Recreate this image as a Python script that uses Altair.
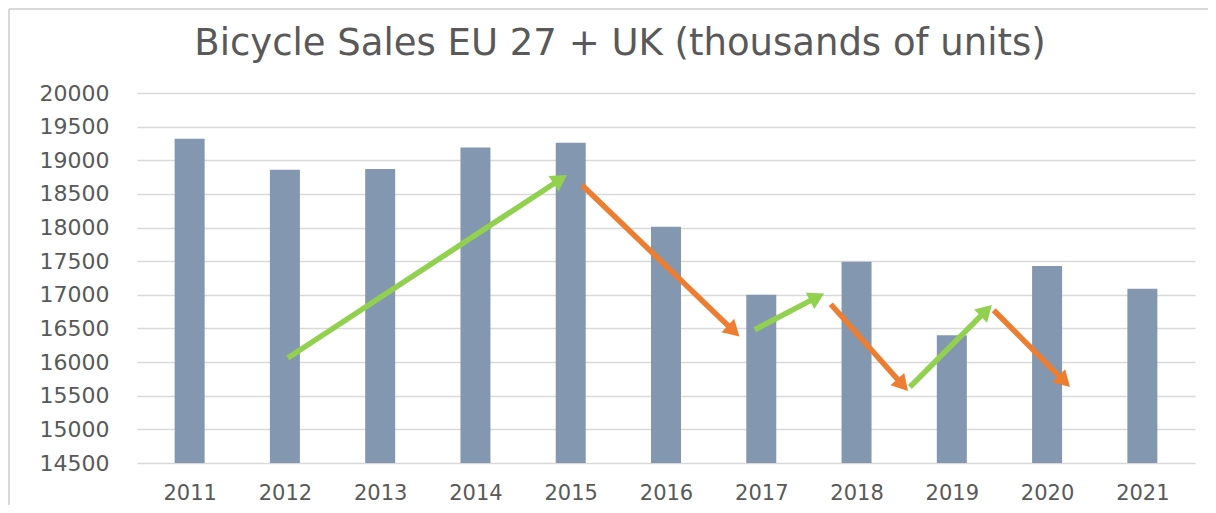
import math
import altair as alt
import pandas as pd

# ---- data ----
years = list(range(2011, 2022))
sales = [19320, 18860, 18870, 19190, 19260, 18010, 17000, 17490, 16400, 17430, 17090]

arrow_x0 = [2012.03, 2015.12, 2016.93, 2017.73, 2018.56, 2019.44]
arrow_y0 = [16060, 18630, 16480, 16860, 15630, 16770]
arrow_x1 = [2014.96, 2016.77, 2017.66, 2018.54, 2019.42, 2020.24]
arrow_y1 = [18780, 16380, 17020, 15570, 16850, 15630]
arrow_kind = ["up", "down", "up", "down", "up", "down"]

y_ticks = list(range(14500, 20001, 500))

# ---- layout ----
W, H = 1058, 370
XDOM = [2010.5, 2021.5]
YDOM = [14500, 20000]
px_x = W / (XDOM[1] - XDOM[0])
px_y = H / (YDOM[1] - YDOM[0])
FONT = "DejaVu Sans"
TXT = "#595959"

bars_df = pd.DataFrame({"year": years, "sales": sales})

rows = []
for x0, y0, x1, y1, k in zip(arrow_x0, arrow_y0, arrow_x1, arrow_y1, arrow_kind):
    dx = (x1 - x0) * px_x
    dy = -(y1 - y0) * px_y
    L = math.hypot(dx, dy)
    ux, uy = dx / L, dy / L
    back = 8.0
    hx = x1 - back * ux / px_x
    hy = y1 + back * uy / px_y
    ang = math.degrees(math.atan2(ux, -uy)) % 360
    rows.append(dict(x0=x0, y0=y0, xs=hx, ys=hy, hx=hx, hy=hy, ang=ang, kind=k))
arr_df = pd.DataFrame(rows)

color_scale = alt.Scale(domain=["up", "down"], range=["#92D050", "#ED7D31"])

x_enc = alt.X(
    "year:Q",
    scale=alt.Scale(domain=XDOM, nice=False, zero=False),
    axis=alt.Axis(values=years, format="d", title=None, grid=False, domain=False,
                  ticks=False, labelFontSize=21, labelFont=FONT, labelColor=TXT,
                  labelPadding=19, labelOverlap=False, tickCount=20),
)
y_enc = alt.Y(
    "sales:Q",
    scale=alt.Scale(domain=YDOM, nice=False, zero=False),
    axis=alt.Axis(values=y_ticks, format="d", title=None, domain=False, ticks=False,
                  gridColor="#d9d9d9", gridWidth=1.6, labelFontSize=22,
                  labelFont=FONT, labelColor=TXT, labelPadding=28,
                  labelOverlap=False, labelBaseline="middle", tickCount=20),
)

bars = alt.Chart(bars_df).mark_bar(size=30, color="#8497B0").encode(
    x=x_enc, y=y_enc, y2=alt.datum(14500)
)

shafts = alt.Chart(arr_df).mark_rule(strokeWidth=5.5, strokeCap="butt").encode(
    x=alt.X("x0:Q"), y=alt.Y("y0:Q"), x2="xs:Q", y2="ys:Q",
    color=alt.Color("kind:N", scale=color_scale, legend=None),
)

heads = alt.Chart(arr_df).mark_point(shape="triangle-up", filled=True, size=340, opacity=1).encode(
    x=alt.X("hx:Q"), y=alt.Y("hy:Q"),
    angle=alt.Angle("ang:Q", scale=None),
    color=alt.Color("kind:N", scale=color_scale, legend=None),
)

title = alt.Chart(pd.DataFrame({"t": ["Bicycle Sales EU 27 + UK (thousands of units)"]})).mark_text(
    font=FONT, fontSize=37, color=TXT, align="center", baseline="alphabetic"
).encode(text="t:N", x=alt.value(483), y=alt.value(-38))

border_top = alt.Chart(pd.DataFrame({"a": [0]})).mark_rule(color="#d9d9d9", strokeWidth=2).encode(
    x=alt.value(-128), x2=alt.value(1071), y=alt.value(-84)
)
border_left = alt.Chart(pd.DataFrame({"a": [0]})).mark_rule(color="#d9d9d9", strokeWidth=2).encode(
    x=alt.value(-128), y=alt.value(-84), y2=alt.value(412)
)

chart = alt.layer(bars, shafts, heads, title, border_top, border_left).properties(
    width=W, height=H,
    autosize=alt.AutoSizeParams(type="none"),
    padding={"left": 129, "top": 85, "right": 13, "bottom": 42},
    background="white",
).configure_view(stroke=None)

chart.save("out.html", embed_options={"renderer": "svg", "actions": False})
